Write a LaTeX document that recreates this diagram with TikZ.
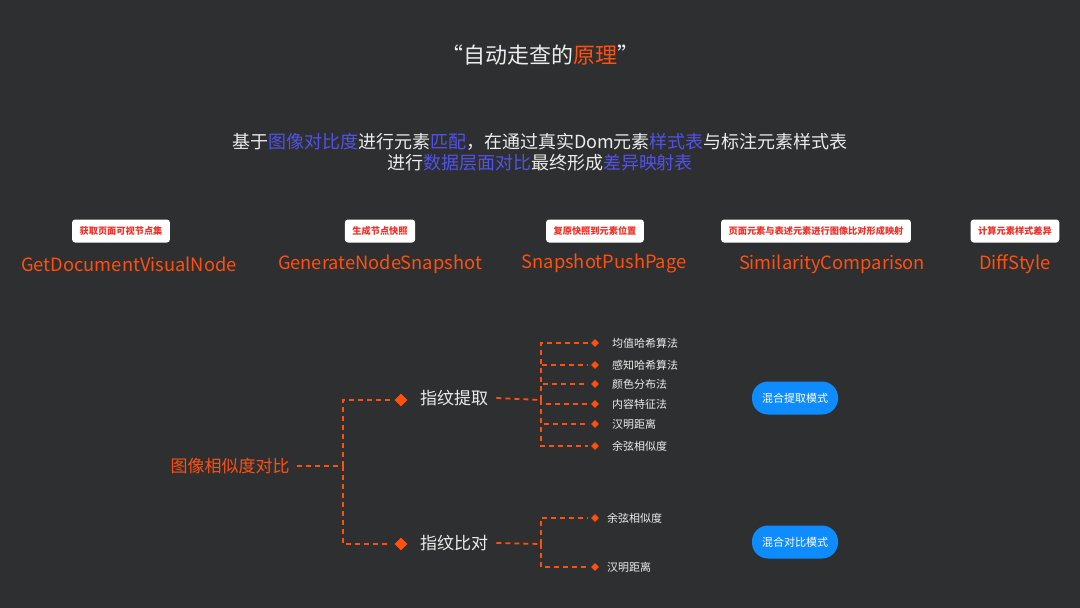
\documentclass[tikz,border=0pt]{standalone}
\usepackage{fontspec}
\setmainfont{Noto Sans CJK SC}
\usepackage{tikz}
\usetikzlibrary{positioning,shapes.geometric}

\definecolor{bgdark}{RGB}{46,47,48}
\definecolor{hlorange}{RGB}{255,80,16}
\definecolor{hlblue}{RGB}{82,82,232}
\definecolor{tagred}{RGB}{238,48,40}
\definecolor{pillblue}{RGB}{14,140,255}
\definecolor{softwhite}{RGB}{236,236,236}

\newcommand{\hb}[1]{\textcolor{hlblue}{#1}}

\tikzset{
  tagbox/.style={fill=white, rounded corners=3pt, text=tagred, inner xsep=7.5pt,
    minimum height=23pt, font=\fontsize{9.2}{12}\selectfont\bfseries},
  funcname/.style={text=hlorange, font=\fontsize{18.3}{22}\selectfont},
  dashline/.style={draw=hlorange, line width=1.8pt, dash pattern=on 5pt off 4pt},
  bigdia/.style={diamond, fill=hlorange, minimum width=13pt, minimum height=13pt, inner sep=0pt},
  smalldia/.style={diamond, fill=hlorange, minimum width=8pt, minimum height=8pt, inner sep=0pt},
  branch/.style={text=softwhite, font=\fontsize{17}{20}\selectfont, anchor=west, inner sep=0pt},
  leaf/.style={text=softwhite, font=\fontsize{11}{13}\selectfont, anchor=west, inner sep=0pt},
  pill/.style={fill=pillblue, rounded corners=16pt, minimum width=86pt, minimum height=33pt,
    text=white, font=\fontsize{11}{13}\selectfont}
}

\begin{document}
\begin{tikzpicture}[x=1pt, y=-1pt]
  \fill[bgdark] (0,0) rectangle (1080,608);
  \useasboundingbox (0,0) rectangle (1080,608);

  % title and subtitle
  \node[text=softwhite, font=\fontsize{22}{26}\selectfont] (title) at (540,55)
    {“自动走查的\textcolor{hlorange}{原理}”};
  \node[text=softwhite, align=center, font=\fontsize{18}{21}\selectfont] (sub) at (540,152)
    {基于\hb{图像对比度}进行元素\hb{匹配}，在通过真实Dom元素\hb{样式表}与标注元素样式表\\
     进行\hb{数据层面对比}最终形成\hb{差异映射表}};

  % steps
  \foreach \n/\x/\fx/\tag/\fn in {s1/121/129/获取页面可视节点集/GetDocumentVisualNode,
                              s2/380/380/生成节点快照/GenerateNodeSnapshot,
                              s3/595/604/复原快照到元素位置/SnapshotPushPage,
                              s4/816/832/页面元素与表述元素进行图像比对形成映射/SimilarityComparison,
                              s5/1015/1015/计算元素样式差异/DiffStyle} {
    \node[tagbox] (\n tag) at (\x,231) {\tag};
    \node[funcname] (\n fn) at (\fx,264) {\fn};
  }

  % tree
  \node[text=hlorange, font=\fontsize{17}{20}\selectfont, inner sep=0pt] (root) at (230,466) {图像相似度对比};
  \coordinate (fork) at (343,466);
  \node[bigdia] (dA) at (401,400) {};
  \node[bigdia] (dB) at (401,544) {};
  \draw[dashline] ([xshift=7pt]root.east) -- (fork);
  \draw[dashline] (fork) |- ([xshift=-4pt]dA.west);
  \draw[dashline] (fork) |- ([xshift=-4pt]dB.west);

  \node[branch] (ext) at (420,398) {指纹提取};
  \node[branch] (cmp) at (420,543) {指纹比对};
  \coordinate (forkA) at (541,400);
  \coordinate (forkB) at (541,544);
  \draw[dashline] ([xshift=8pt]ext.east) -- (forkA);
  \draw[dashline] ([xshift=8pt]cmp.east) -- (forkB);

  \foreach \i/\y/\t in {1/343/均值哈希算法, 2/365/感知哈希算法, 3/384/颜色分布法,
                        4/404/内容特征法, 5/424/汉明距离, 6/446/余弦相似度} {
    \node[smalldia] (la\i) at (595,\y) {};
    \node[leaf] (ta\i) at (612,\y) {\t};
    \draw[dashline] (forkA) |- ([xshift=-3pt]la\i.west);
  }
  \foreach \i/\y/\t in {1/518/余弦相似度, 2/567/汉明距离} {
    \node[smalldia] (lb\i) at (595,\y) {};
    \node[leaf] (tb\i) at (607,\y) {\t};
    \draw[dashline] (forkB) |- ([xshift=-3pt]lb\i.west);
  }

  % modes
  \node[pill] (modeA) at (795,398) {混合提取模式};
  \node[pill] (modeB) at (795,542) {混合对比模式};
\end{tikzpicture}
\end{document}
